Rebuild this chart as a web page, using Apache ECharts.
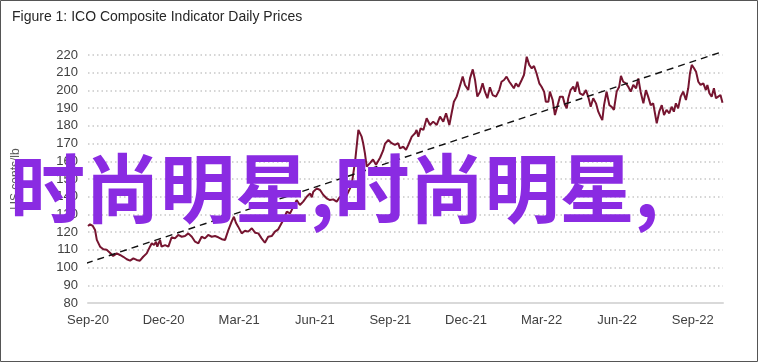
<!DOCTYPE html>
<html>
<head>
<meta charset="utf-8">
<script src="https://cdn.jsdelivr.net/npm/echarts@6/dist/echarts.min.js"></script>
<style>html,body{margin:0;padding:0;background:#fff}#c{width:758px;height:363px}</style>
</head>
<body>
<div id="c"></div>
<script>
// x positions: months since 1 Sep 2020
const months = [0,0.08,0.19,0.28,0.35,0.48,0.61,0.74,0.87,1.0,1.14,1.27,1.40,1.54,1.67,1.80,1.93,2.06,2.19,2.33,2.46,2.53,2.62,2.70,2.75,2.86,2.92,3.06,3.19,3.32,3.45,3.58,3.72,3.85,3.98,4.12,4.25,4.38,4.51,4.64,4.77,4.91,5.04,5.17,5.31,5.44,5.57,5.70,5.79,5.87,5.96,6.10,6.23,6.36,6.50,6.63,6.76,6.89,7.02,7.15,7.29,7.42,7.55,7.75,7.89,8.02,8.15,8.28,8.41,8.54,8.68,8.81,8.88,8.94,9.08,9.21,9.34,9.47,9.60,9.73,9.87,10.0,10.13,10.27,10.40,10.46,10.60,10.73,10.79,10.86,10.92,10.99,11.06,11.19,11.31,11.43,11.59,11.71,11.79,11.92,12.05,12.18,12.31,12.38,12.51,12.62,12.71,12.85,12.98,13.04,13.11,13.20,13.31,13.44,13.57,13.70,13.84,13.97,14.10,14.21,14.34,14.43,14.52,14.63,14.69,14.76,14.87,14.96,15.09,15.16,15.27,15.36,15.45,15.56,15.66,15.75,15.85,15.95,16.06,16.19,16.32,16.41,16.51,16.61,16.72,16.81,16.90,16.98,17.08,17.21,17.30,17.41,17.51,17.61,17.70,17.80,17.91,18.00,18.10,18.17,18.27,18.33,18.44,18.53,18.62,18.73,18.84,18.93,19.00,19.06,19.15,19.26,19.33,19.42,19.52,19.65,19.76,19.85,19.95,20.05,20.16,20.25,20.34,20.41,20.48,20.58,20.69,20.78,20.87,20.98,21.08,21.15,21.24,21.35,21.44,21.54,21.64,21.75,21.84,21.93,22.04,22.14,22.23,22.33,22.43,22.50,22.57,22.67,22.77,22.86,22.96,23.07,23.16,23.25,23.33,23.42,23.52,23.62,23.73,23.82,23.89,23.96,24.05,24.13,24.22,24.31,24.42,24.52,24.58,24.66,24.75,24.84,24.92,25.01,25.10,25.18];
const prices = [123.5,124.4,123.5,121.2,115.6,111.8,110.3,110,108.4,106.5,108,107.1,106.1,104.7,103.9,105.2,104.3,103.9,106.1,108,111.8,113.7,112.7,114.6,111.8,115.6,111.8,112.7,111.8,117.1,116.5,118.4,117.4,117.8,119.3,117.4,114.6,113.7,117.4,116.5,118.4,117.4,117.8,117.1,116,115.6,121.2,125.9,128.7,125.3,123.1,119.3,120.8,120.3,122.2,119.7,119.3,116.5,114,117.4,117.8,120.3,121.6,126.9,131.5,130.6,134.4,138.1,135.3,137.2,140,141.9,139.7,142.8,144.7,143.8,141,139.1,138.1,138.5,137.2,140,138.1,141,144.7,146.6,160,177.7,178.6,173.9,170.2,164.5,157,159,161,158,162,166,170,172,170.2,169.2,170.2,167.3,168.2,166.4,169.2,173.9,175.8,177.7,173.9,178.6,177.7,184.3,180.5,182.4,180.5,185.2,182.4,187.1,180.5,187.1,193.6,196.5,199.3,198.4,207.8,203.1,200.2,206.8,211.9,205.9,196.5,199.3,204,199.3,195.6,201.8,197.4,196.5,200.2,204.9,205.9,207.8,204.9,203.1,201.2,204,202.1,205.9,208.7,219,214.4,212.5,213.8,209.7,204,202.1,199.3,193.6,193.6,199.3,194.6,186.1,190.8,196.5,196.5,191.7,189.9,195.6,200.2,202.1,199.3,204.9,198.4,197.4,200.2,196.5,190.8,195.6,192.7,188,185.2,183.3,191.7,199.3,191.7,190.8,189,199.3,202.1,208.2,204.9,204,202.1,199.3,203.1,201.2,206.8,199.3,192.7,200.2,196.5,191.7,192.7,187.1,181.4,188,191.7,186.1,189,187.1,190.8,188,192.7,189.9,196.5,199.3,194.6,201.2,209.7,214.4,212.5,210.6,204.9,203.1,204,200.2,203.1,198.4,196.5,201.2,195.6,196.5,197.4,193.1];
const trendMonths = [-0.08, 25.2];
const trendValues = [102.4, 222.0];
const tickLabels = ['Sep-20','Dec-20','Mar-21','Jun-21','Sep-21','Dec-21','Mar-22','Jun-22','Sep-22'];
const titleText = 'Figure 1: ICO Composite Indicator Daily Prices';
const yAxisTitle = 'US cents/lb';
const watermark = '时尚明星,时尚明星,';

const chart = echarts.init(document.getElementById('c'));
chart.setOption({
  animation: false,
  backgroundColor: '#fff',
  title: {
    text: titleText, left: 7, top: 5,
    textStyle: {fontFamily: 'Liberation Sans', fontSize: 14, fontWeight: 'normal', color: '#262626'}
  },
  grid: {left: 88, right: 35, top: 55, bottom: 60, containLabel: false},
  xAxis: {
    type: 'value', min: 0, max: 25.2, interval: 3,
    axisLine: {show: true, onZero: false, lineStyle: {color: '#d9d9d9', width: 2}},
    axisTick: {show: false},
    splitLine: {show: false},
    axisLabel: {
      color: '#404040', fontFamily: 'Liberation Sans', fontSize: 13, margin: 11,
      showMaxLabel: false,
      formatter: v => { const i = Math.round(v / 3); return (Math.abs(v - i * 3) < 1e-6 && tickLabels[i]) ? tickLabels[i] : ''; }
    }
  },
  yAxis: {
    type: 'value', min: 80, max: 220, interval: 10,
    name: yAxisTitle, nameLocation: 'middle', nameGap: 66, nameRotate: 90,
    nameTextStyle: {color: '#595959', fontFamily: 'Liberation Sans', fontSize: 12},
    axisLine: {show: false}, axisTick: {show: false},
    axisLabel: {color: '#404040', fontFamily: 'Liberation Sans', fontSize: 13, margin: 10},
    splitLine: {show: true, lineStyle: {color: '#c8c8c8', width: 1.5, type: [1.5, 3]}}
  },
  series: [
    {
      type: 'line', data: months.map((m, i) => [m, prices[i]]),
      showSymbol: false, smooth: false,
      lineStyle: {color: '#761530', width: 2}, z: 3
    },
    {
      type: 'line', data: trendMonths.map((m, i) => [m, trendValues[i]]),
      showSymbol: false, clip: false,
      lineStyle: {color: '#111', width: 1.4, type: [7, 5]}, z: 4
    }
  ],
  graphic: [
    {type: 'rect', shape: {x: 0.5, y: 0.5, width: 757, height: 361}, style: {fill: 'none', stroke: '#555', lineWidth: 1}, z: 10},
    {type: 'text', x: 10, y: 188, z: 20,
     style: {text: watermark, fill: '#8A2BE2', font: 'bold 75px "Noto Sans CJK SC"', verticalAlign: 'middle', align: 'left'}}
  ]
});
</script>
</body>
</html>
